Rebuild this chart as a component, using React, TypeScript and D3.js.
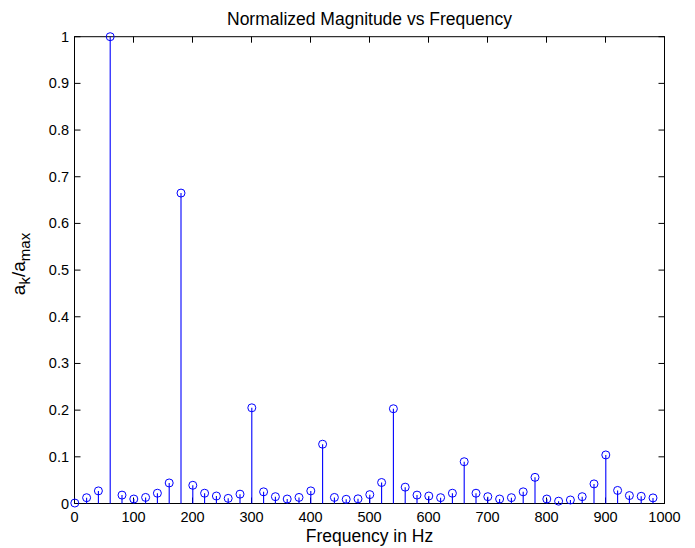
import React from "react";
import * as d3 from "d3";

const frequencies: number[] = d3.range(0, 1000, 20);
const magnitudes: number[] = [
  0.001, 0.0124, 0.027, 1.0, 0.018, 0.0096, 0.013, 0.022, 0.044, 0.665,
  0.039, 0.022, 0.016, 0.011, 0.020, 0.205, 0.025, 0.0146, 0.0096, 0.013,
  0.027, 0.127, 0.013, 0.009, 0.010, 0.019, 0.045, 0.203, 0.035, 0.018,
  0.016, 0.0125, 0.022, 0.0895, 0.022, 0.0146, 0.0096, 0.0125, 0.025, 0.056,
  0.0096, 0.005, 0.0075, 0.0146, 0.042, 0.104, 0.028, 0.017, 0.0154, 0.012,
];
const xTicks: number[] = d3.range(0, 1001, 100);
const yTicks: number[] = d3.range(0, 11).map((i) => i / 10);
const titleText = "Normalized Magnitude vs Frequency";
const xLabelText = "Frequency in Hz";

const W = 695;
const H = 548;
const left = 74.5;
const right = 664.5;
const top = 36.7;
const bottom = 503.5;
const FONT = "'Liberation Sans', Arial, Helvetica, sans-serif";

export default function App() {
  const x = d3.scaleLinear().domain([0, 1000]).range([left, right]);
  const y = d3.scaleLinear().domain([0, 1]).range([bottom, top]);
  const tickLen = 6;
  const fmtY = (v: number) => (v === 0 ? "0" : v === 1 ? "1" : d3.format(".1f")(v));

  return (
    <svg
      width={W}
      height={H}
      style={{ position: "absolute", left: 0, top: 0, background: "#fff" }}
      fontFamily={FONT}
    >
      <rect x={0} y={0} width={W} height={H} fill="#fff" />
      {/* box */}
      <rect
        x={left}
        y={top}
        width={right - left}
        height={bottom - top}
        fill="none"
        stroke="#000"
        strokeWidth={1}
      />
      {/* x ticks */}
      {xTicks.map((t) => (
        <g key={"x" + t}>
          <line x1={x(t)} x2={x(t)} y1={bottom} y2={bottom - tickLen} stroke="#000" />
          <line x1={x(t)} x2={x(t)} y1={top} y2={top + tickLen} stroke="#000" />
          <text
            x={x(t)}
            y={522}
            textAnchor="middle"
            fontSize={14.5}
            fill="#000"
          >
            {t}
          </text>
        </g>
      ))}
      {/* y ticks */}
      {yTicks.map((t) => (
        <g key={"y" + t}>
          <line x1={left} x2={left + tickLen} y1={y(t)} y2={y(t)} stroke="#000" />
          <line x1={right} x2={right - tickLen} y1={y(t)} y2={y(t)} stroke="#000" />
          <text
            x={69}
            y={y(t) + 5}
            textAnchor="end"
            fontSize={14.5}
            fill="#000"
          >
            {fmtY(t)}
          </text>
        </g>
      ))}
      {/* stems */}
      <g transform="translate(0.3,0)">
        {frequencies.map((f, i) => (
          <g key={f}>
            <line
              x1={x(f)}
              x2={x(f)}
              y1={y(0)}
              y2={y(magnitudes[i])}
              stroke="#0000ff"
              strokeWidth={1.1}
            />
            <circle
              cx={x(f)}
              cy={y(magnitudes[i])}
              r={4}
              fill="none"
              stroke="#0000ff"
              strokeWidth={1}
            />
          </g>
        ))}
      </g>
      {/* title */}
      <text x={(left + right) / 2} y={24.5} textAnchor="middle" fontSize={17.5} fill="#000">
        {titleText}
      </text>
      {/* x label */}
      <text x={(left + right) / 2} y={541.5} textAnchor="middle" fontSize={17.5} fill="#000">
        {xLabelText}
      </text>
      {/* y label */}
      <text
        transform={`translate(25, 264) rotate(-90)`}
        textAnchor="middle"
        fontSize={19}
        fill="#000"
      >
        a
        <tspan fontSize={15} dy={5}>k</tspan>
        <tspan dy={-5}>/a</tspan>
        <tspan fontSize={15} dy={5}>max</tspan>
      </text>
    </svg>
  );
}
